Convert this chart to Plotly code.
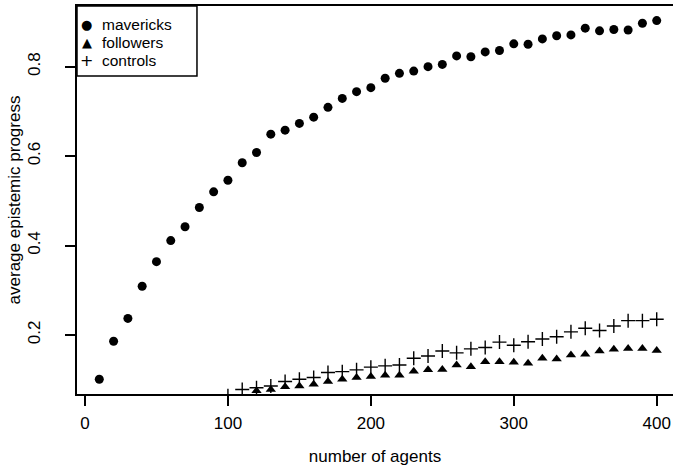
import plotly.graph_objects as go

# ---- data ----
mav_x = list(range(10, 401, 10))
mav_y = [0.101, 0.186, 0.237, 0.309, 0.364, 0.411, 0.442, 0.485, 0.520, 0.546,
         0.585, 0.608, 0.649, 0.658, 0.673, 0.687, 0.709, 0.729, 0.744, 0.753,
         0.774, 0.785, 0.790, 0.800, 0.805, 0.824, 0.822, 0.833, 0.836, 0.851,
         0.850, 0.862, 0.869, 0.871, 0.886, 0.880, 0.883, 0.882, 0.897, 0.903]

fol_x = list(range(120, 401, 10))
fol_y = [0.075, 0.078, 0.084, 0.086, 0.090, 0.096, 0.101, 0.105, 0.107, 0.110,
         0.110, 0.119, 0.122, 0.123, 0.133, 0.129, 0.140, 0.140, 0.139, 0.137,
         0.148, 0.146, 0.155, 0.157, 0.164, 0.168, 0.170, 0.170, 0.165]

con_x = list(range(100, 401, 10))
con_y = [0.064, 0.078, 0.082, 0.086, 0.096, 0.101, 0.105, 0.116, 0.118, 0.122,
         0.128, 0.131, 0.133, 0.148, 0.153, 0.164, 0.160, 0.169, 0.172, 0.184,
         0.177, 0.185, 0.191, 0.196, 0.207, 0.215, 0.210, 0.220, 0.232, 0.232,
         0.235]

series_names = ["mavericks", "followers", "controls"]
legend_glyphs = ["\u25CF", "\u25B2", "+"]

x_ticks = [0, 100, 200, 300, 400]
y_ticks = [0.2, 0.4, 0.6, 0.8]

FONT = "Liberation Sans, Arial, Helvetica, sans-serif"

fig = go.Figure()
fig.add_trace(go.Scatter(x=mav_x, y=mav_y, mode="markers", name=series_names[0],
                         marker=dict(symbol="circle", size=9, color="black")))
fig.add_trace(go.Scatter(x=fol_x, y=fol_y, mode="markers", name=series_names[1],
                         marker=dict(symbol="triangle-up", size=9, color="black")))
fig.add_trace(go.Scatter(x=con_x, y=con_y, mode="markers", name=series_names[2],
                         marker=dict(symbol="cross-thin", size=10, color="black",
                                     line=dict(color="black", width=1.4))))

fig.update_layout(
    width=673, height=466,
    margin=dict(l=77, r=0, t=6, b=72, autoexpand=False),
    paper_bgcolor="white", plot_bgcolor="white",
    font=dict(family=FONT, size=17, color="black"),
    showlegend=False,
)

# legend box (R-style, drawn at the top-left corner of the plot region)
fig.add_shape(type="rect", xref="paper", yref="paper",
              x0=0, x1=0.2013, y0=0.8196, y1=1.0,
              line=dict(color="black", width=1.5), fillcolor="white", layer="above")
row_y = [0.9536, 0.9072, 0.8608]
glyph_sizes = [13, 13, 16]
for name, glyph, gs, ry in zip(series_names, legend_glyphs, glyph_sizes, row_y):
    fig.add_annotation(xref="paper", yref="paper", x=0.0163, y=ry,
                       text=glyph, showarrow=False, xanchor="center", yanchor="middle",
                       borderpad=0,
                       font=dict(family="DejaVu Sans", size=gs, color="black"))
    fig.add_annotation(xref="paper", yref="paper", x=0.0405, y=ry,
                       text=name, showarrow=False, xanchor="left", yanchor="middle",
                       borderpad=0,
                       font=dict(family=FONT, size=15.5, color="black"))

fig.update_xaxes(
    range=[-5.6, 411.4], tickvals=x_ticks, ticktext=[str(v) for v in x_ticks],
    showgrid=False, zeroline=False,
    showline=True, mirror=True, linecolor="black", linewidth=2,
    ticks="outside", ticklen=10, tickwidth=1.5, tickcolor="black",
    ticklabelstandoff=3,
    title=dict(text="number of agents", standoff=18, font=dict(size=17)),
    automargin=False,
)
fig.update_yaxes(
    range=[0.068, 0.9356], tickvals=y_ticks, ticktext=[str(v) for v in y_ticks],
    showgrid=False, zeroline=False,
    showline=True, mirror=False, linecolor="black", linewidth=2,
    ticks="outside", ticklen=10, tickwidth=1.5, tickcolor="black",
    tickangle=-90, ticklabelstandoff=18,
    title=dict(text="average epistemic progress", standoff=0, font=dict(size=17)),
    automargin=False,
)

fig.write_html("out.html", config={"displayModeBar": False},
               post_script="document.body.style.margin='0';")
